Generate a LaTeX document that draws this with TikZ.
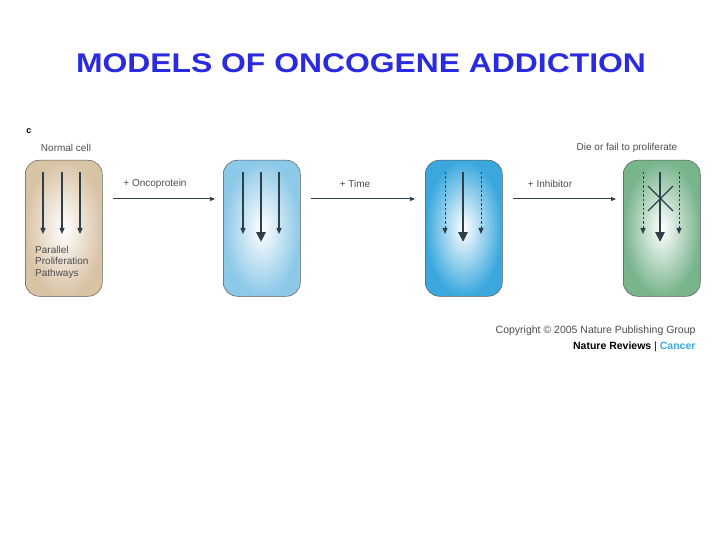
\documentclass[tikz,border=0pt]{standalone}
\usepackage{fontspec}
\setmainfont{Liberation Sans}
\usetikzlibrary{arrows.meta}
\definecolor{ink}{HTML}{2F3F4A}
\definecolor{tan}{HTML}{D9C3A5}
\definecolor{lblue}{HTML}{8CC8E8}
\definecolor{dblue}{HTML}{3AA8DD}
\definecolor{cgreen}{HTML}{78B48C}
\definecolor{ttl}{HTML}{2A2AE0}
\tikzset{
 cell/.style={draw=gray!70!black,line width=0.5pt,rounded corners=14pt,minimum width=77pt,minimum height=136pt,anchor=north west},
 thinarr/.style={draw=ink,line width=1.2pt,-{Triangle[length=6pt,width=5pt]}},
 thickarr/.style={draw=ink,line width=2.6pt,-{Triangle[length=10pt,width=9pt]}},
 dasharr/.style={draw=ink,line width=1pt,dash pattern=on 2.5pt off 2pt,-{Triangle[length=6pt,width=5pt]}},
 conn/.style={draw=ink,line width=1pt,-{Triangle[length=5pt,width=4pt]}},
 lbl/.style={font=\fontsize{10}{11.5}\selectfont,text=gray!60!black}
}
\begin{document}
\begin{tikzpicture}[x=1pt,y=-1pt]
\useasboundingbox (0,0) rectangle (720,540);
\node[font=\fontsize{27}{29}\selectfont\bfseries,text=ttl,xscale=1.18] (title) at (361,63) {MODELS OF ONCOGENE ADDICTION};
\node[font=\fontsize{9}{10}\selectfont\bfseries,text=black] (c) at (29,131) {c};
\node[lbl] (nc) at (66,148) {Normal cell};
\node[cell,inner color=white,outer color=tan] (b1) at (25,160) {};
\node[cell,inner color=white,outer color=lblue] (b2) at (223,160) {};
\node[cell,inner color=white,outer color=dblue] (b3) at (425,160) {};
\node[cell,inner color=white,outer color=cgreen] (b4) at (623,160) {};
\node[lbl,align=left,anchor=north west,inner sep=0pt] (ppp) at (35,246) {Parallel\\Proliferation\\Pathways};
\node[lbl] (die) at (627,148) {Die or fail to proliferate};
\draw[conn] ([xshift=10pt]b1.east |- 0,199) -- ([xshift=-8pt]b2.west |- 0,199);
\draw[conn] ([xshift=10pt]b2.east |- 0,199) -- ([xshift=-10pt]b3.west |- 0,199);
\draw[conn] ([xshift=10pt]b3.east |- 0,199) -- ([xshift=-7pt]b4.west |- 0,199);
\node[lbl] (l1) at (155,184) {+ Oncoprotein};
\node[lbl] (l2) at (355,184) {+ Time};
\node[lbl] (l3) at (550,184) {+ Inhibitor};
\foreach \x in {43,62,80} \draw[thinarr] (\x,172) -- (\x,234);
\draw[thinarr] (243,172) -- (243,234);
\draw[thinarr] (279,172) -- (279,234);
\draw[thickarr] (261,172) -- (261,242);
\draw[dasharr] (445,172) -- (445,234);
\draw[dasharr] (481,172) -- (481,234);
\draw[thickarr] (463,172) -- (463,242);
\draw[dasharr] (643,172) -- (643,234);
\draw[dasharr] (679,172) -- (679,234);
\draw[thickarr] (660,172) -- (660,242);
\draw[ink,line width=1.2pt] (648,186) -- (673,211) (673,186) -- (648,211);
\node[font=\fontsize{10.5}{12}\selectfont,text=gray!60!black,anchor=east] (copy) at (699,331) {Copyright © 2005 Nature Publishing Group};
\node[font=\fontsize{10.5}{12}\selectfont,anchor=east] (nr) at (699,347) {\textbf{Nature Reviews} | \textcolor{dblue}{\textbf{Cancer}}};
\end{tikzpicture}
\end{document}
